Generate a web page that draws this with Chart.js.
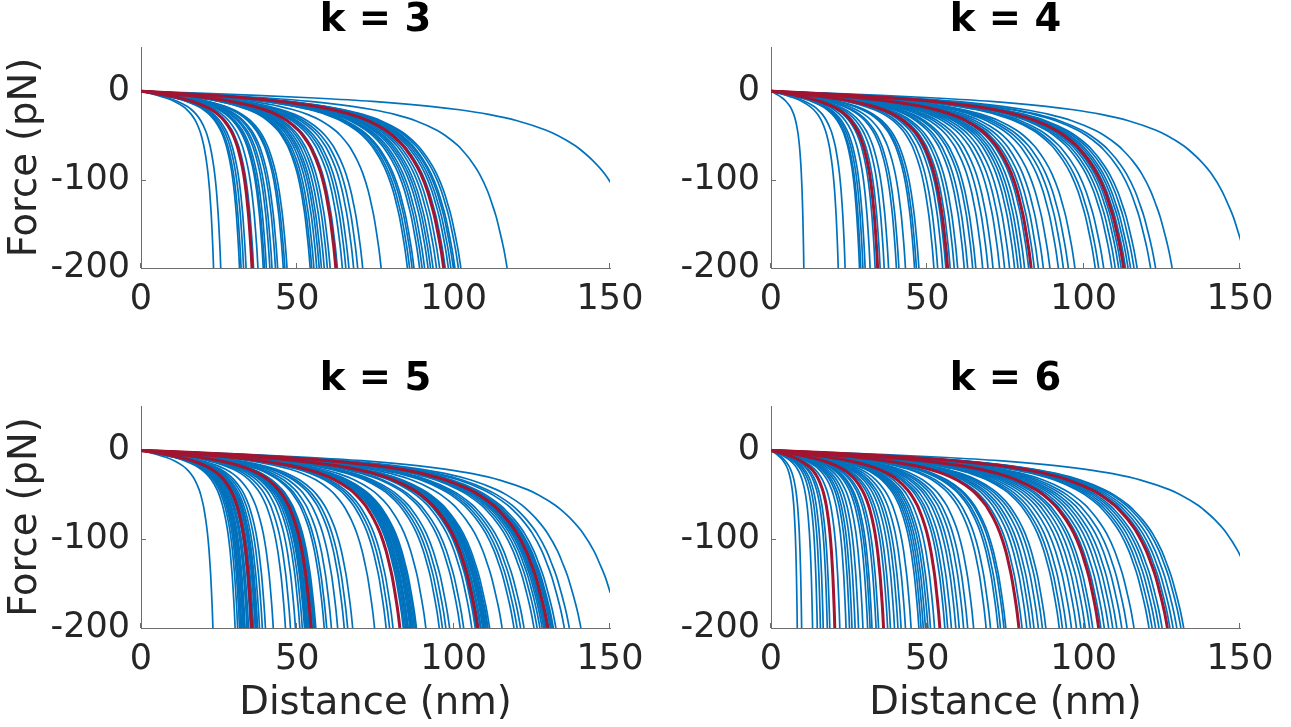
<!DOCTYPE html>
<html>
<head>
<meta charset="utf-8">
<script src="https://cdn.jsdelivr.net/npm/chart.js@4.4.1/dist/chart.umd.min.js"></script>
<style>
  html, body { margin: 0; padding: 0; background: #fff; }
  #wrap { position: relative; width: 1291px; height: 727px; overflow: hidden; }
  canvas { position: absolute; }
</style>
</head>
<body>
<div id="wrap">
  <canvas id="k3" width="655" height="328" style="left:0;top:0"></canvas>
  <canvas id="k4" width="655" height="328" style="left:630px;top:0"></canvas>
  <canvas id="k5" width="655" height="368" style="left:0;top:359px"></canvas>
  <canvas id="k6" width="655" height="368" style="left:630px;top:359px"></canvas>
</div>
<script>
// shared force-extension profile: fraction of rupture distance -> force (pN)
const profileU = [0, 0.115, 0.231, 0.346, 0.462, 0.577, 0.635, 0.693, 0.750, 0.808, 0.831,
                  0.866, 0.877, 0.900, 0.924, 0.947, 0.958, 0.970, 0.981, 0.987, 0.993, 1.0];
const profileF = [0, -2.2, -4.7, -7.7, -11.6, -17.1, -21.0, -26.2, -33.4, -44.2, -50.1,
                  -61.7, -66.5, -78.0, -93.2, -113.5, -126.5, -141.9, -160.4, -171.2, -183.1, -200];

// distance (nm) at which each trace reaches -200 pN
const k3Blue = [23.2, 25.5, 31.5, 32.0, 32.8, 33.6, 36.0, 37.4, 39.1, 39.5, 40.1, 41.2, 41.9, 43.0,
  43.7, 45.5, 46.0, 46.7, 54.1, 54.6, 55.3, 56.2, 57.0, 57.7, 58.6, 59.6, 60.5, 62.8, 64.4, 65.5,
  66.5, 68.0, 69.3, 70.9, 76.8, 85.2, 85.9, 86.7, 87.3, 89.1, 89.9, 90.7, 91.8, 92.6, 93.4, 94.5,
  95.5, 97.3, 98.3, 99.1, 99.9, 100.4, 101.5, 102.3, 117.1, 160.4];
const k3Red = [35.5, 62.3, 96.8];

const k4Blue = [10.5, 21.5, 23.7, 28.3, 28.7, 29.4, 30.1, 31.7, 33.3, 34.9, 36.2, 37.6, 40.1, 40.9,
  43.0, 45.9, 46.5, 47.3, 52.1, 53.3, 54.9, 55.9, 57.3, 58.6, 59.7, 61.8, 62.9, 64.5, 65.5, 67.7,
  69.4, 71.0, 73.1, 74.7, 76.3, 77.9, 79.0, 80.0, 81.1, 82.4, 84.2, 85.5, 87.1, 89.2, 91.9, 93.5,
  95.1, 97.2, 103.7, 104.8, 106.4, 109.0, 110.1, 111.2, 112.0, 113.4, 114.2, 115.0, 116.1, 117.1,
  121.4, 123.0, 128.3, 152.4];
const k4Red = [34.1, 56.5, 83.2, 112.8];

const k5Blue = [23.0, 30.1, 30.9, 31.5, 31.9, 32.2, 32.6, 32.9, 33.0, 33.3, 33.9, 34.0, 34.4, 35.0,
  35.6, 36.0, 36.5, 36.8, 37.0, 37.3, 37.9, 38.8, 39.8, 42.3, 46.2, 47.8, 49.4, 50.8, 51.6, 52.3,
  52.6, 52.9, 53.1, 53.4, 53.8, 54.0, 54.8, 55.2, 55.4, 55.6, 55.9, 58.6, 59.4, 60.9, 62.9, 65.0,
  66.1, 67.7, 74.7, 78.4, 79.5, 80.6, 83.9, 84.2, 84.6, 85.0, 85.3, 85.5, 86.0, 86.2, 86.5, 86.8,
  87.0, 87.4, 87.8, 88.1, 91.1, 95.4, 96.4, 97.5, 98.7, 102.1, 103.2, 105.8, 106.9, 107.2, 108.0,
  108.5, 108.8, 109.3, 109.6, 109.8, 110.1, 110.4, 110.8, 111.0, 111.5, 115.5, 119.3, 120.3, 121.4,
  122.5, 125.7, 126.7, 127.6, 128.3, 128.8, 129.2, 129.5, 130.4, 130.9, 131.2, 131.6, 131.9, 132.7,
  135.4, 137.0, 140.7, 153.0];
const k5Red = [35.4, 54.4, 82.8, 107.7, 130.1];

const k6Blue = [8.4, 9.8, 13.3, 14.8, 15.8, 16.7, 18.0, 18.8, 22.0, 24.0, 25.1, 25.9, 26.9, 28.0,
  29.4, 30.9, 31.7, 32.3, 33.6, 34.4, 37.3, 38.2, 39.5, 40.6, 41.6, 43.0, 44.8, 47.3, 48.0, 48.7,
  49.4, 50.2, 51.0, 52.3, 55.6, 56.5, 57.7, 59.1, 60.2, 61.6, 62.9, 64.8, 68.8, 70.2, 72.6, 73.4,
  74.5, 75.1, 80.3, 81.8, 83.0, 84.1, 85.5, 86.8, 87.9, 92.2, 93.2, 94.5, 96.1, 97.7, 99.1, 100.5,
  101.9, 102.9, 105.5, 106.6, 108.0, 109.3, 110.6, 112.2, 113.9, 116.1, 120.9, 121.9, 123.0, 124.1,
  125.1, 127.6, 128.6, 129.8, 131.1, 132.0, 157.7];
const k6Red = [20.4, 36.0, 54.0, 79.3, 104.8, 126.8];

const xTicks = [0, 50, 100, 150];
const yTicks = [-200, -100, 0];

const FONT = 'DejaVu Sans';
const TEXT = '#262626';
const AXIS = '#6e6e6e';
const BLUE = '#0072BD';
const RED = '#A2142F';

function trace(reach) {
  return profileU.map((u, i) => ({ x: u * reach, y: profileF[i] }));
}

// MATLAB-style tick marks pointing into the axes
const inwardTicks = {
  id: 'inwardTicks',
  beforeDatasetsDraw(chart) {
    const { ctx, chartArea, scales: { x, y } } = chart;
    ctx.save();
    ctx.strokeStyle = AXIS;
    ctx.lineWidth = 1;
    ctx.beginPath();
    xTicks.forEach(v => {
      const px = Math.round(x.getPixelForValue(v)) - 0.5;
      ctx.moveTo(px, chartArea.bottom);
      ctx.lineTo(px, chartArea.bottom - 5);
    });
    yTicks.forEach(v => {
      const py = Math.round(y.getPixelForValue(v)) + 0.5;
      ctx.moveTo(chartArea.left, py);
      ctx.lineTo(chartArea.left + 5, py);
    });
    ctx.stroke();
    ctx.restore();
  }
};

// bold title centred over the plot area rather than the whole canvas
const panelTitle = {
  id: 'panelTitle',
  afterDraw(chart, args, opts) {
    const { ctx, chartArea } = chart;
    ctx.save();
    ctx.font = 'bold 38.5px "' + FONT + '"';
    ctx.fillStyle = '#000';
    ctx.textAlign = 'center';
    ctx.textBaseline = 'middle';
    ctx.fillText(opts.text, (chartArea.left + chartArea.right) / 2, 21);
    ctx.restore();
  }
};

function panel(id, title, blue, red, showY, showX, axisH) {
  const datasets = red.map(r => ({ data: trace(r), borderColor: RED, borderWidth: 3, order: 0 }))
    .concat(blue.map(r => ({ data: trace(r), borderColor: BLUE, borderWidth: 1.7, order: 1 })));

  new Chart(document.getElementById(id), {
    type: 'line',
    data: { datasets },
    options: {
      responsive: false,
      animation: false,
      events: [],
      elements: {
        point: { radius: 0 },
        line: { cubicInterpolationMode: 'monotone', fill: false }
      },
      layout: { padding: { top: 47, right: 45 } },
      plugins: {
        legend: { display: false },
        tooltip: { enabled: false },
        panelTitle: { text: title }
      },
      scales: {
        x: {
          type: 'linear', min: 0, max: 150,
          afterBuildTicks: s => { s.ticks = xTicks.map(v => ({ value: v })); },
          afterFit: s => { s.height = axisH; },
          grid: { display: false, drawTicks: false },
          border: { display: true, color: AXIS, width: 1 },
          ticks: { padding: 11, color: TEXT, maxRotation: 0, autoSkip: false, font: { family: FONT, size: 35 } },
          title: { display: showX, text: 'Distance (nm)', color: TEXT, font: { family: FONT, size: 38.5 }, padding: { bottom: 0 } }
        },
        y: {
          type: 'linear', min: -200, max: 50,
          afterBuildTicks: s => { s.ticks = yTicks.map(v => ({ value: v })); },
          afterFit: s => { s.width = 141; },
          grid: { display: false, drawTicks: false },
          border: { display: true, color: AXIS, width: 1 },
          ticks: { padding: 11, color: TEXT, autoSkip: false, font: { family: FONT, size: 35 } },
          title: { display: showY, text: 'Force (pN)', color: TEXT, font: { family: FONT, size: 38.5 }, padding: { top: 3 } }
        }
      }
    },
    plugins: [inwardTicks, panelTitle]
  });
}

panel('k3', 'k = 3', k3Blue, k3Red, true, false, 60);
panel('k4', 'k = 4', k4Blue, k4Red, false, false, 60);
panel('k5', 'k = 5', k5Blue, k5Red, true, true, 99);
panel('k6', 'k = 6', k6Blue, k6Red, false, true, 99);
</script>
</body>
</html>
